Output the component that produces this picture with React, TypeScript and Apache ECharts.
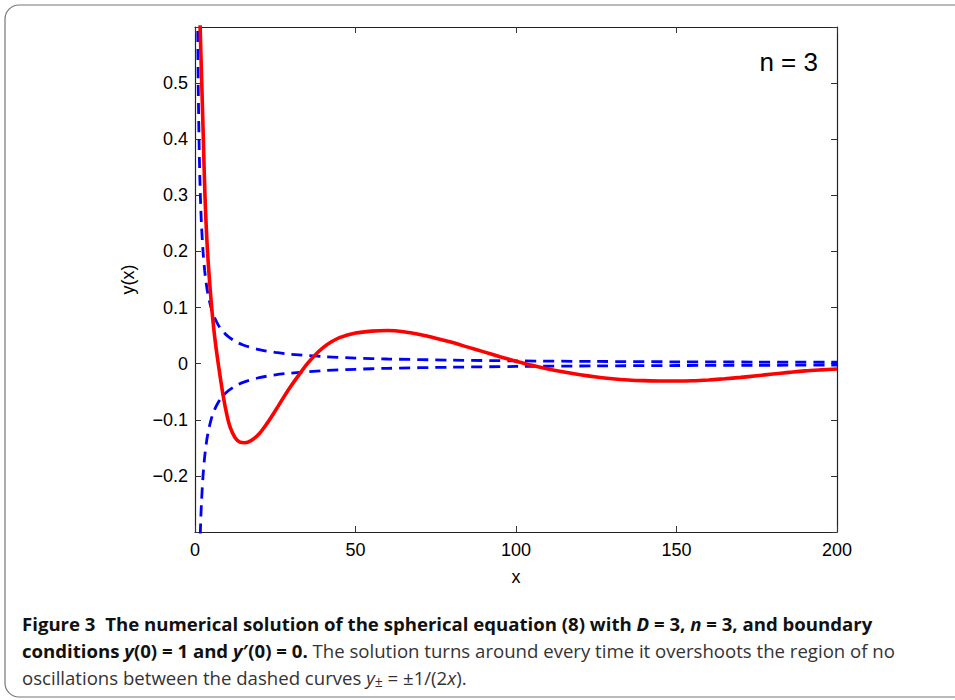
import React, { useEffect, useRef } from "react";
import * as echarts from "echarts";

// Solution curve y(x)
const solX = [1.4, 1.6, 2.1, 2.6, 3.1, 3.9, 5.2, 6.3, 7.5, 8.8, 10, 11, 12.5, 14, 15.5, 17.5, 20, 22.5, 25, 27.5, 30, 32.5, 35, 37.5, 40, 42.5, 45, 50, 55, 60, 65, 70, 75, 80, 85, 90, 95, 100, 105, 110, 115, 120, 125, 130, 135, 140, 145, 150, 155, 160, 165, 170, 175, 180, 185, 190, 195, 200];
const solY = [0.64, 0.6, 0.5, 0.4, 0.3, 0.2, 0.1, 0.04, -0.01, -0.058, -0.093, -0.114, -0.132, -0.14, -0.141, -0.137, -0.125, -0.106, -0.084, -0.061, -0.039, -0.019, 0.0, 0.016, 0.029, 0.039, 0.0465, 0.0545, 0.058, 0.059, 0.057, 0.052, 0.0455, 0.038, 0.0295, 0.021, 0.0125, 0.0045, -0.003, -0.0095, -0.015, -0.0198, -0.0237, -0.0268, -0.029, -0.0303, -0.031, -0.031, -0.0305, -0.029, -0.027, -0.0245, -0.0215, -0.0185, -0.0155, -0.0128, -0.011, -0.0095];

// Dashed envelopes y = ±1/(2x), values listed
const envX = [0.8, 1, 1.25, 1.5, 1.75, 2, 2.5, 3, 3.5, 4, 5, 6, 7, 8, 10, 12.5, 15, 20, 25, 30, 40, 50, 60, 80, 100, 125, 150, 175, 200];
const envUpper = [0.625, 0.5, 0.4, 0.3333, 0.2857, 0.25, 0.2, 0.1667, 0.1429, 0.125, 0.1, 0.0833, 0.0714, 0.0625, 0.05, 0.04, 0.0333, 0.025, 0.02, 0.0167, 0.0125, 0.01, 0.0083, 0.0063, 0.005, 0.004, 0.0033, 0.0029, 0.0025];
const envLower = [-0.625, -0.5, -0.4, -0.3333, -0.2857, -0.25, -0.2, -0.1667, -0.1429, -0.125, -0.1, -0.0833, -0.0714, -0.0625, -0.05, -0.04, -0.0333, -0.025, -0.02, -0.0167, -0.0125, -0.01, -0.0083, -0.0063, -0.005, -0.004, -0.0033, -0.0029, -0.0025];

const xTicks = [0, 50, 100, 150, 200];
const yLabelled = [-0.2, -0.1, 0, 0.1, 0.2, 0.3, 0.4, 0.5];

const pair = (xs: number[], ys: number[]) => xs.map((x, i) => [x, ys[i]]);

const AX = "Liberation Sans, Arial, Helvetica, sans-serif";
const CAP = "'Open Sans', Lato, sans-serif";
const CS = 18.6;

export default function App() {
  const ref = useRef<HTMLDivElement>(null);
  useEffect(() => {
    if (!ref.current) return;
    const chart = echarts.init(ref.current, null, { renderer: "svg" });
    const fmtY = (v: number) => {
      const r = Math.round(v * 10) / 10;
      if (!yLabelled.some((t) => Math.abs(t - r) < 1e-9)) return "";
      if (r === 0) return "0";
      return r < 0 ? "\u2212" + Math.abs(r).toString() : r.toString();
    };
    const tickStyle = { show: true, inside: true, length: 6, lineStyle: { color: "#333", width: 1 } };
    const lineStyle = { show: true, onZero: false, lineStyle: { color: "#222", width: 1.2 } };
    const dash = { color: "#0000ff", width: 2.8, type: [11, 7] };
    chart.setOption({
      animation: false,
      backgroundColor: "#fff",
      grid: { left: 195, top: 27, right: 118, bottom: 168, containLabel: false },
      xAxis: [
        {
          type: "value", min: 0, max: 200, interval: 50, position: "bottom",
          axisLine: lineStyle, axisTick: tickStyle, splitLine: { show: false },
          axisLabel: { color: "#000", fontFamily: AX, fontSize: 18, margin: 9,
            formatter: (v: number) => (xTicks.includes(v) ? String(v) : "") },
          name: "x", nameLocation: "middle", nameGap: 36,
          nameTextStyle: { color: "#000", fontFamily: AX, fontSize: 18 },
        },
        {
          type: "value", min: 0, max: 200, interval: 50, position: "top",
          axisLine: lineStyle, axisTick: tickStyle, splitLine: { show: false },
          axisLabel: { show: false },
        },
      ],
      yAxis: [
        {
          type: "value", min: -0.3, max: 0.6, interval: 0.1, position: "left",
          axisLine: lineStyle, axisTick: tickStyle, splitLine: { show: false },
          axisLabel: { color: "#000", fontFamily: AX, fontSize: 18, margin: 7, formatter: fmtY },
          name: "y(x)", nameLocation: "middle", nameGap: 58, nameRotate: 90,
          nameTextStyle: { color: "#000", fontFamily: AX, fontSize: 18 },
        },
        {
          type: "value", min: -0.3, max: 0.6, interval: 0.1, position: "right",
          axisLine: lineStyle, axisTick: tickStyle, splitLine: { show: false },
          axisLabel: { show: false },
        },
      ],
      series: [
        {
          type: "line", data: pair(envX, envUpper), showSymbol: false, symbol: "none",
          smooth: 0.3, clip: true, silent: true, lineStyle: dash, z: 2,
        },
        {
          type: "line", data: pair(envX, envLower), showSymbol: false, symbol: "none",
          smooth: 0.3, clip: true, silent: true, lineStyle: dash, z: 2,
        },
        {
          type: "line", data: pair(solX, solY), showSymbol: false, symbol: "none",
          smooth: 0.3, clip: true, silent: true,
          lineStyle: { color: "#ff0000", width: 3.6 }, z: 3,
        },
      ],
      graphic: [
        {
          type: "rect", silent: true, z: -1,
          shape: { x: 5, y: 5, width: 1000, height: 692, r: 14 },
          style: { fill: "none", stroke: "#777", lineWidth: 1.2 },
        },
        {
          type: "text", x: 818, y: 62,
          style: { text: "n = 3", fontFamily: AX, fontSize: 26, fill: "#000", align: "right", verticalAlign: "middle" },
        },
        {
          type: "text", x: 22, y: 623,
          style: {
            text: "{b|Figure 3  The numerical solution of the spherical equation (8) with }{bi|D}{b| = 3, }{bi|n}{b| = 3, and boundary}",
            verticalAlign: "middle",
            rich: {
              b: { fontFamily: CAP, fontSize: CS, fontWeight: "bold", fill: "#111" },
              bi: { fontFamily: CAP, fontSize: CS, fontWeight: "bold", fontStyle: "italic", fill: "#111" },
            },
          },
        },
        {
          type: "text", x: 22, y: 650,
          style: {
            text: "{b|conditions }{bi|y}{b|(0) = 1 and }{bi|y}{b|\u2032(0) = 0.}{r| The solution turns around every time it overshoots the region of no}",
            verticalAlign: "middle",
            rich: {
              b: { fontFamily: CAP, fontSize: CS, fontWeight: "bold", fill: "#111" },
              bi: { fontFamily: CAP, fontSize: CS, fontWeight: "bold", fontStyle: "italic", fill: "#111" },
              r: { fontFamily: CAP, fontSize: CS, fill: "#333" },
            },
          },
        },
        {
          type: "text", x: 22, y: 677,
          style: {
            text: "{r|oscillations between the dashed curves }{i|y}{sub|\u00b1}{r| = \u00b11/(2}{i|x}{r|).}",
            verticalAlign: "middle",
            rich: {
              r: { fontFamily: CAP, fontSize: CS, fill: "#333" },
              i: { fontFamily: CAP, fontSize: CS, fontStyle: "italic", fill: "#333" },
              sub: { fontFamily: CAP, fontSize: 14, fill: "#333", padding: [8, 0, 0, 0] },
            },
          },
        },
      ],
    });
    return () => chart.dispose();
  }, []);
  return <div ref={ref} style={{ position: "fixed", left: 0, top: 0, width: 955, height: 700 }} />;
}
